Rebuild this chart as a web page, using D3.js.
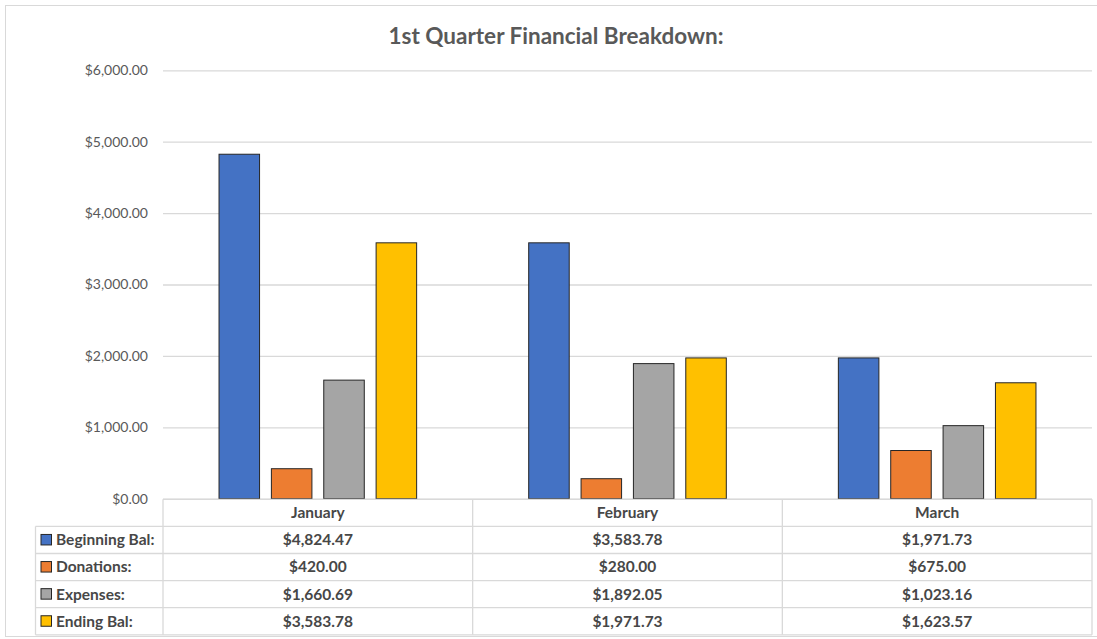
<!DOCTYPE html>
<html>
<head>
<meta charset="utf-8">
<script src="https://cdn.jsdelivr.net/npm/d3@7"></script>
<style>
  body { margin: 0; background: #fff; }
  svg { display: block; font-family: Lato, "Open Sans", sans-serif; }
</style>
</head>
<body>
<div id="chart"></div>
<script>
const months = ['January', 'February', 'March'];
const seriesNames = ['Beginning Bal:', 'Donations:', 'Expenses:', 'Ending Bal:'];
const beginningBal = [4824.47, 3583.78, 1971.73];
const donations = [420.00, 280.00, 675.00];
const expenses = [1660.69, 1892.05, 1023.16];
const endingBal = [3583.78, 1971.73, 1623.57];
const yTicks = [0, 1000, 2000, 3000, 4000, 5000, 6000];
const colors = ['#4472C4', '#ED7D31', '#A5A5A5', '#FFC000'];

const seriesValues = [beginningBal, donations, expenses, endingBal];

const W = 1097, H = 639;
const plotL = 163, plotR = 1092, plotT = 70.3, base = 498.7;
const rowH = 27.1;

const svg = d3.select('#chart').append('svg')
  .attr('width', W)
  .attr('height', H);

// chart border
svg.append('rect')
  .attr('x', 5.5).attr('y', 5.5)
  .attr('width', W).attr('height', 631)
  .attr('fill', 'none')
  .attr('stroke', '#d9d9d9');

svg.append('text')
  .attr('x', 556).attr('y', 44)
  .attr('text-anchor', 'middle')
  .style('font-size', '22.5px')
  .style('font-weight', 'bold')
  .style('fill', '#595959')
  .text('1st Quarter Financial Breakdown:');

const y = d3.scaleLinear().domain([0, 6000]).range([base, plotT]);
const x0 = d3.scaleBand().domain(months).range([plotL, plotR]).padding(0);
const x1 = d3.scaleBand().domain(seriesNames)
  .range([0, x0.bandwidth()])
  .paddingInner(0.226)
  .paddingOuter(1.07);

const fmt = d3.format('$,.2f');

// gridlines + y labels
const yAxis = svg.append('g')
  .attr('transform', 'translate(' + plotL + ',0)')
  .call(d3.axisLeft(y).tickValues(yTicks).tickFormat(fmt)
    .tickSize(-(plotR - plotL)).tickPadding(15));
yAxis.select('.domain').remove();
yAxis.selectAll('line').attr('stroke', '#d9d9d9').attr('stroke-width', 1.3);
yAxis.selectAll('text')
  .style('font-size', '14px')
  .style('fill', '#595959')
  .style('font-family', 'Lato, sans-serif');

// bars
const groups = svg.selectAll('.month')
  .data(months)
  .enter().append('g')
  .attr('class', 'month')
  .attr('transform', d => 'translate(' + x0(d) + ',0)');

groups.selectAll('rect')
  .data((m, i) => seriesNames.map((s, j) => ({ s: s, j: j, v: seriesValues[j][i] })))
  .enter().append('rect')
  .attr('x', d => x1(d.s))
  .attr('y', d => y(d.v))
  .attr('width', x1.bandwidth())
  .attr('height', d => base - y(d.v))
  .attr('fill', d => colors[d.j])
  .attr('stroke', '#262626')
  .attr('stroke-width', 1);

// data table
const tbl = svg.append('g').attr('class', 'table');
const gridColor = '#d9d9d9';
const tTop = 499.3;
const labelLeft = 35.5;
const tFont = '15.5px';
const tColor = '#474747';

// horizontal lines
tbl.append('line')
  .attr('x1', plotL).attr('x2', plotR)
  .attr('y1', tTop).attr('y2', tTop)
  .attr('stroke', gridColor).attr('stroke-width', 1.3);
for (let r = 1; r <= seriesNames.length + 1; r++) {
  const yy = tTop + r * rowH;
  tbl.append('line')
    .attr('x1', labelLeft).attr('x2', plotR)
    .attr('y1', yy).attr('y2', yy)
    .attr('stroke', gridColor).attr('stroke-width', 1.3);
}
// vertical lines
tbl.append('line')
  .attr('x1', labelLeft).attr('x2', labelLeft)
  .attr('y1', tTop + rowH).attr('y2', tTop + 5 * rowH)
  .attr('stroke', gridColor).attr('stroke-width', 1.3);
months.forEach(m => {
  tbl.append('line')
    .attr('x1', x0(m)).attr('x2', x0(m))
    .attr('y1', tTop).attr('y2', tTop + 5 * rowH)
    .attr('stroke', gridColor).attr('stroke-width', 1.3);
});
tbl.append('line')
  .attr('x1', plotR).attr('x2', plotR)
  .attr('y1', tTop).attr('y2', tTop + 5 * rowH)
  .attr('stroke', gridColor).attr('stroke-width', 1.3);

// month headers
tbl.selectAll('.head')
  .data(months)
  .enter().append('text')
  .attr('class', 'head')
  .attr('x', d => x0(d) + x0.bandwidth() / 2)
  .attr('y', tTop + rowH / 2)
  .attr('dy', '0.35em')
  .attr('text-anchor', 'middle')
  .style('font-size', tFont)
  .style('font-weight', 'bold')
  .style('fill', tColor)
  .text(d => d);

// rows
seriesNames.forEach((s, j) => {
  const cy = tTop + (j + 1.5) * rowH;
  tbl.append('rect')
    .attr('x', 41).attr('y', cy - 5.5)
    .attr('width', 10.5).attr('height', 10.5)
    .attr('fill', colors[j])
    .attr('stroke', '#262626');
  tbl.append('text')
    .attr('x', 56).attr('y', cy)
    .attr('dy', '0.35em')
    .style('font-size', tFont)
    .style('font-weight', 'bold')
    .style('fill', tColor)
    .text(s);
  months.forEach((m, i) => {
    tbl.append('text')
      .attr('x', x0(m) + x0.bandwidth() / 2)
      .attr('y', cy)
      .attr('dy', '0.35em')
      .attr('text-anchor', 'middle')
      .style('font-size', tFont)
      .style('font-weight', 'bold')
      .style('fill', tColor)
      .text(fmt(seriesValues[j][i]));
  });
});
</script>
</body>
</html>
